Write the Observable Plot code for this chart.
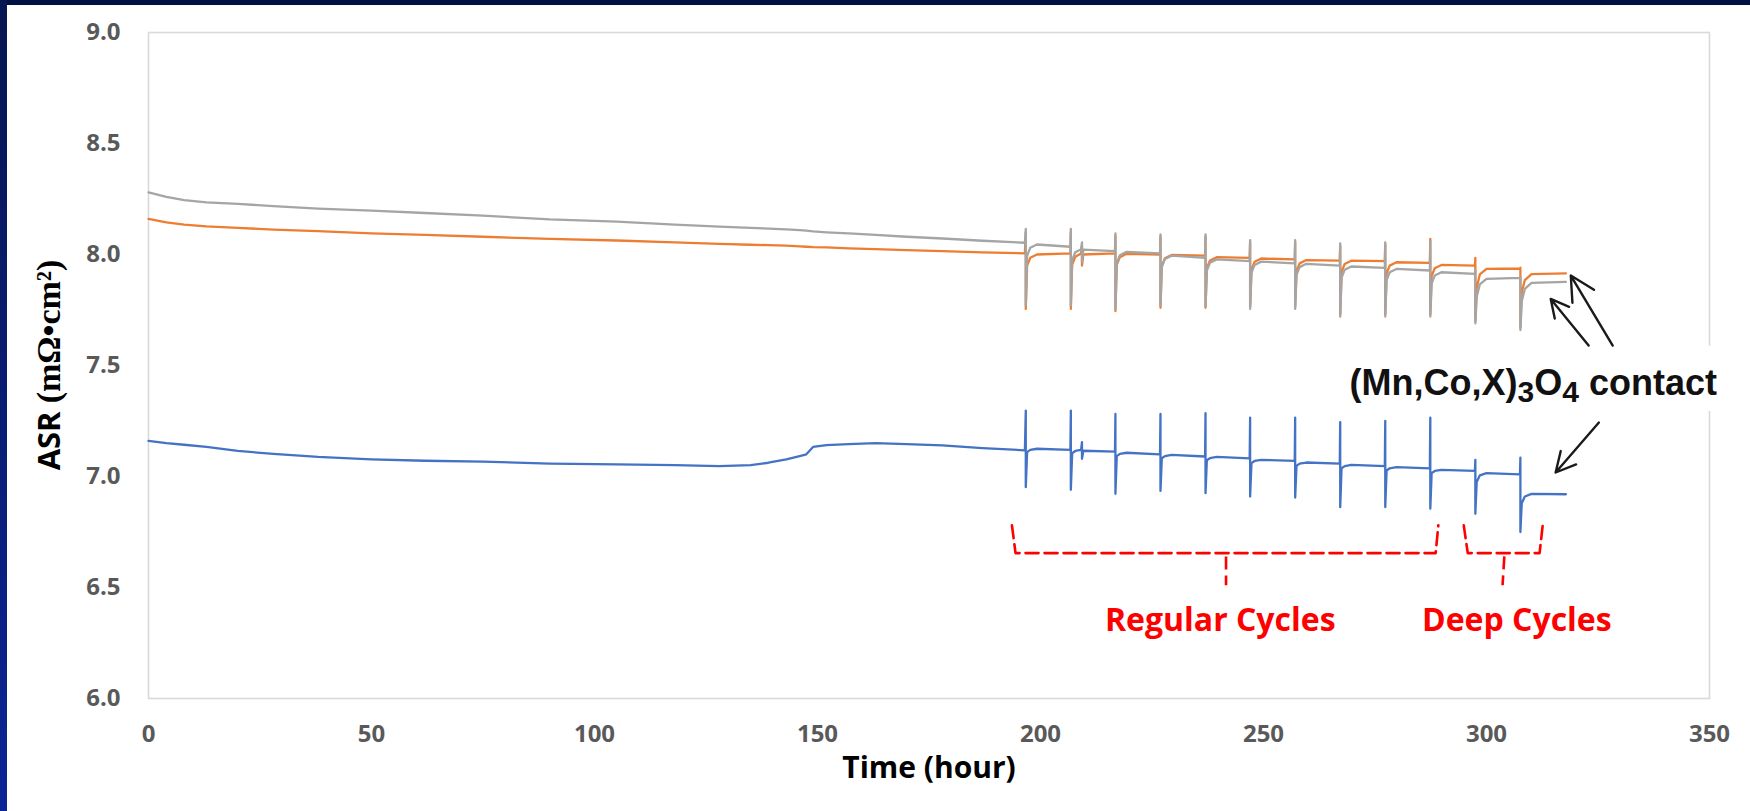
<!DOCTYPE html>
<html>
<head>
<meta charset="utf-8">
<script src="https://cdn.jsdelivr.net/npm/d3@7"></script>
<script src="https://cdn.jsdelivr.net/npm/@observablehq/plot@0.6"></script>
<style>
  body { margin: 0; background: #fff; }
  #wrap { position: relative; width: 1750px; height: 811px; overflow: hidden; background: #fff; }
  #wrap .band-top { position: absolute; left: 0; top: 0; width: 1750px; height: 5px; background: #020f42; }
  #wrap .band-left { position: absolute; left: 0; top: 0; width: 7px; height: 811px; background: linear-gradient(#061650, #0a2596); }
</style>
</head>
<body>
<div id="wrap">
  <div id="chart"></div>
  <div class="band-top"></div>
  <div class="band-left"></div>
</div>
<script>
// Test time (hours), shared by the three cells. Cycling starts near 197 h;
// each thermal cycle appears as a spike (up, down, recovery).
const hours = [
  0, 4, 8, 13, 20, 28, 38, 50, 62, 75, 90, 105, 118, 128, 135, 139, 143, 146, 147.5, 149, 152, 157, 163, 170, 178, 187, 196.5,
  196.7, 196.7, 197.0, 197.7, 199.2, 206.7,
  206.8, 206.8, 207.1, 207.8, 209.1, 209.3, 209.3, 209.6, 216.7,
  216.8, 216.8, 217.1, 217.8, 219.3, 226.8,
  226.9, 226.9, 227.2, 227.9, 229.4, 236.9,
  237.0, 237.0, 237.3, 238.0, 239.5, 246.9,
  247.0, 247.0, 247.3, 248.0, 249.5, 257.0,
  257.1, 257.1, 257.4, 258.1, 259.6, 267.1,
  267.2, 267.2, 267.5, 268.2, 269.7, 277.2,
  277.3, 277.3, 277.6, 278.3, 279.8, 287.3,
  287.4, 287.4, 287.7, 288.4, 289.9, 297.4,
  297.5, 297.5, 297.8, 298.5, 300.0, 307.5,
  307.6, 307.6, 307.9, 308.6, 310.1, 317.8
];

// ASR (mΩ·cm²) of each cell at those times
const asrGray = [
  8.28, 8.26, 8.245, 8.235, 8.228, 8.218, 8.207, 8.198, 8.187, 8.175, 8.158, 8.148, 8.135, 8.126, 8.12, 8.117, 8.113, 8.11, 8.108, 8.104, 8.10, 8.095, 8.088, 8.08, 8.072, 8.062, 8.053,
  8.115, 7.77, 7.995, 8.03, 8.045, 8.035,
  8.115, 7.77, 7.975, 8.01, 8.024, 8.055, 7.965, 8.022, 8.015,
  8.095, 7.755, 7.962, 7.997, 8.012, 8.005,
  8.09, 7.77, 7.945, 7.98, 7.995, 7.985,
  8.09, 7.765, 7.928, 7.963, 7.978, 7.97,
  8.065, 7.755, 7.918, 7.953, 7.968, 7.96,
  8.065, 7.755, 7.908, 7.943, 7.958, 7.95,
  8.05, 7.72, 7.896, 7.931, 7.946, 7.94,
  8.055, 7.72, 7.885, 7.92, 7.935, 7.928,
  8.06, 7.72, 7.87, 7.905, 7.92, 7.913,
  7.93, 7.69, 7.81, 7.865, 7.89, 7.895,
  7.90, 7.66, 7.79, 7.845, 7.872, 7.877
];

const asrOrange = [
  8.16, 8.145, 8.135, 8.127, 8.12, 8.112, 8.105, 8.095, 8.088, 8.08, 8.07, 8.063, 8.055, 8.048, 8.044, 8.042, 8.04, 8.037, 8.035, 8.033, 8.032, 8.028, 8.024, 8.02, 8.015, 8.01, 8.005,
  8.10, 7.755, 7.95, 7.985, 8.0, 8.005,
  8.10, 7.755, 7.955, 7.99, 8.005, 8.04, 7.95, 8.0, 8.005,
  8.085, 7.745, 7.953, 7.988, 8.003, 8.0,
  8.08, 7.76, 7.948, 7.983, 7.998, 7.995,
  8.08, 7.76, 7.938, 7.973, 7.988, 7.985,
  8.055, 7.765, 7.932, 7.967, 7.982, 7.978,
  8.055, 7.765, 7.925, 7.96, 7.975, 7.972,
  8.04, 7.73, 7.922, 7.957, 7.972, 7.97,
  8.045, 7.73, 7.915, 7.95, 7.965, 7.962,
  8.07, 7.73, 7.903, 7.938, 7.953, 7.95,
  7.985, 7.70, 7.85, 7.91, 7.935, 7.937,
  7.94, 7.67, 7.83, 7.885, 7.912, 7.915
];

const asrBlue = [
  7.16, 7.15, 7.143, 7.133, 7.115, 7.102, 7.088, 7.077, 7.071, 7.067, 7.058, 7.055, 7.051, 7.047, 7.051, 7.062, 7.077, 7.092, 7.10, 7.133, 7.141, 7.146, 7.15, 7.146, 7.14, 7.128, 7.118,
  7.297, 6.952, 7.11, 7.12, 7.125, 7.12,
  7.297, 6.94, 7.105, 7.115, 7.12, 7.155, 7.08, 7.116, 7.112,
  7.282, 6.922, 7.092, 7.102, 7.107, 7.10,
  7.282, 6.935, 7.082, 7.092, 7.097, 7.09,
  7.285, 6.925, 7.073, 7.083, 7.088, 7.082,
  7.265, 6.91, 7.06, 7.07, 7.075, 7.07,
  7.265, 6.905, 7.048, 7.058, 7.063, 7.058,
  7.245, 6.862, 7.037, 7.047, 7.052, 7.047,
  7.25, 6.862, 7.027, 7.037, 7.042, 7.037,
  7.265, 6.855, 7.015, 7.025, 7.03, 7.025,
  7.075, 6.832, 6.975, 7.005, 7.015, 7.01,
  7.085, 6.75, 6.88, 6.91, 6.922, 6.92
];

const xTicks = [0, 50, 100, 150, 200, 250, 300, 350];
const yTicks = [6.0, 6.5, 7.0, 7.5, 8.0, 8.5, 9.0];

// Bracket outlines (hour, ASR) marking the two cycling regimes
const bracketRegular = [[193.6, 6.78], [194.4, 6.655], [288.6, 6.655], [289.2, 6.78]];
const bracketDeep = [[294.9, 6.78], [295.8, 6.655], [311.9, 6.655], [312.6, 6.78]];
const bracketStems = [
  {x1: 241.6, y1: 6.64, x2: 241.6, y2: 6.51},
  {x1: 304.0, y1: 6.64, x2: 303.6, y2: 6.51}
];
const cycleLabels = [
  {hour: 240.3, asr: 6.35, text: "Regular Cycles"},
  {hour: 306.8, asr: 6.35, text: "Deep Cycles"}
];

// Callout for the three coated cells
const calloutBox = [{x1: 267.5, x2: 352, y1: 7.293, y2: 7.587}];
const calloutArrows = [
  {x1: 328.3, y1: 7.59, x2: 318.9, y2: 7.905},
  {x1: 322.9, y1: 7.59, x2: 314.4, y2: 7.80},
  {x1: 325.2, y1: 7.243, x2: 315.5, y2: 7.018}
];
const calloutAnchor = {hour: 310.6, asr: 7.365};

const rows = (values) => hours.map((h, i) => ({hour: h, asr: values[i]}));

const chart = Plot.plot({
  width: 1750,
  height: 811,
  marginLeft: 148,
  marginRight: 41,
  marginTop: 32,
  marginBottom: 113,
  style: {fontFamily: "'Open Sans', sans-serif", background: "#fff", overflow: "visible"},
  x: {domain: [0, 350]},
  y: {domain: [6, 9]},
  marks: [
    Plot.frame({stroke: "#d9d9d9", strokeWidth: 1.6}),
    Plot.axisX({ticks: xTicks, tickSize: 0, tickPadding: 26, fontSize: 24, fontWeight: "bold", color: "#595959", label: null}),
    Plot.axisY({ticks: yTicks, tickSize: 0, tickPadding: 28, fontSize: 24, fontWeight: "bold", color: "#595959", label: null, tickFormat: d3.format(".1f")}),
    Plot.line(rows(asrBlue), {x: "hour", y: "asr", stroke: "#4472c4", strokeWidth: 2.3}),
    Plot.line(rows(asrOrange), {x: "hour", y: "asr", stroke: "#ed7d31", strokeWidth: 2.3}),
    Plot.line(rows(asrGray), {x: "hour", y: "asr", stroke: "#a5a5a5", strokeWidth: 2.3}),
    Plot.line(bracketRegular, {x: d => d[0], y: d => d[1], stroke: "#ff0000", strokeWidth: 2.6, strokeDasharray: "13,6"}),
    Plot.line(bracketDeep, {x: d => d[0], y: d => d[1], stroke: "#ff0000", strokeWidth: 2.6, strokeDasharray: "13,6"}),
    Plot.link(bracketStems, {x1: "x1", y1: "y1", x2: "x2", y2: "y2", stroke: "#ff0000", strokeWidth: 2.6, strokeDasharray: "13,6"}),
    Plot.text(cycleLabels, {x: "hour", y: "asr", text: "text", fill: "#ff0000", fontSize: 32, fontWeight: "bold"}),
    Plot.rect(calloutBox, {x1: "x1", x2: "x2", y1: "y1", y2: "y2", fill: "#fff"}),
    Plot.arrow(calloutArrows, {x1: "x1", y1: "y1", x2: "x2", y2: "y2", stroke: "#1a1a1a", strokeWidth: 2.4, headLength: 18, headAngle: 55}),
    Plot.text(["Time (hour)"], {frameAnchor: "bottom", dy: 79, fontSize: 30, fontWeight: "bold", fill: "#000"})
  ]
});

document.getElementById("chart").appendChild(chart);

const sx = chart.scale("x"), sy = chart.scale("y");
const svg = d3.select(chart);

// Y-axis title: sans "ASR" followed by serif units
const yTitle = svg.append("text")
  .attr("transform", `translate(56, ${(32 + 698) / 2}) rotate(-90)`)
  .attr("text-anchor", "middle")
  .attr("dy", "0.35em")
  .attr("fill", "#000");
yTitle.append("tspan")
  .attr("font-family", "'Open Sans', sans-serif").attr("font-weight", "bold").attr("font-size", 31)
  .text("ASR ");
yTitle.append("tspan")
  .attr("font-family", "'Liberation Serif', 'Times New Roman', serif").attr("font-weight", "bold").attr("font-size", 34)
  .text("(mΩ•cm²)");

// Callout label with subscripts
const callout = svg.append("text")
  .attr("x", sx.apply(calloutAnchor.hour))
  .attr("y", sy.apply(calloutAnchor.asr))
  .attr("text-anchor", "middle")
  .attr("font-family", "'Liberation Sans', Arial, sans-serif")
  .attr("font-weight", "bold")
  .attr("font-size", 36)
  .attr("fill", "#111");
callout.append("tspan").text("(Mn,Co,X)");
callout.append("tspan").attr("font-size", 30).attr("dy", 7).text("3");
callout.append("tspan").attr("dy", -7).text("O");
callout.append("tspan").attr("font-size", 30).attr("dy", 7).text("4");
callout.append("tspan").attr("dy", -7).text(" contact");
</script>
</body>
</html>
